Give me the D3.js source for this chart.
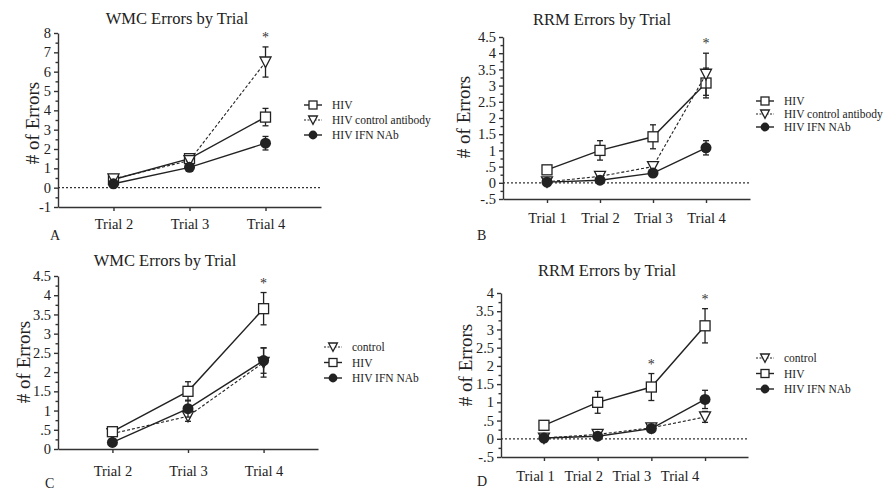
<!DOCTYPE html>
<html>
<head>
<meta charset="utf-8">
<script src="https://cdn.jsdelivr.net/npm/d3@7"></script>
<style>
  body { margin: 0; background: #fff; }
  svg { display: block; font-family: 'Liberation Serif', 'DejaVu Serif', serif; }
  .axis path, .axis line { stroke: #333; stroke-width: 1.4; }
  .axis text { font-size: 14.5px; fill: #222; font-family: 'Liberation Serif', serif; }
  .title { font-size: 16.5px; fill: #222; }
  .ylabel { font-size: 19px; fill: #222; }
  .legend text { font-size: 11.5px; fill: #222; }
  .tag { font-size: 14px; fill: #222; }
</style>
</head>
<body>
<svg id="chart" width="884" height="492"></svg>
<script>
// ---- data ----
const trials3 = ['Trial 2', 'Trial 3', 'Trial 4'];
const trials4 = ['Trial 1', 'Trial 2', 'Trial 3', 'Trial 4'];

// Panel A: WMC errors
const aHIV = [0.42, 1.5, 3.65];
const aHIVErr = [0.08, 0.15, 0.45];
const aCtrlAb = [0.45, 1.4, 6.5];
const aCtrlAbErr = [0.08, 0.15, 0.78];
const aIFN = [0.2, 1.05, 2.3];
const aIFNErr = [0.06, 0.12, 0.35];
const aStars = ['Trial 4'];

// Panel B: RRM errors
const bHIV = [0.4, 1.0, 1.42, 3.08];
const bHIVErr = [0.1, 0.3, 0.37, 0.46];
const bCtrlAb = [0.03, 0.2, 0.5, 3.35];
const bCtrlAbErr = [0.03, 0.05, 0.1, 0.65];
const bIFN = [0.02, 0.08, 0.3, 1.08];
const bIFNErr = [0.02, 0.04, 0.06, 0.22];
const bStars = ['Trial 4'];

// Panel C: WMC errors
const cCtrl = [0.4, 0.85, 2.25];
const cCtrlErr = [0.05, 0.13, 0.38];
const cHIV = [0.45, 1.5, 3.65];
const cHIVErr = [0.06, 0.25, 0.42];
const cIFN = [0.17, 1.05, 2.3];
const cIFNErr = [0.05, 0.22, 0.33];
const cStars = ['Trial 4'];

// Panel D: RRM errors
const dCtrl = [0.02, 0.12, 0.3, 0.6];
const dCtrlErr = [0.02, 0.06, 0.06, 0.15];
const dHIV = [0.37, 1.0, 1.42, 3.1];
const dHIVErr = [0.12, 0.3, 0.37, 0.47];
const dIFN = [0.02, 0.07, 0.28, 1.08];
const dIFNErr = [0.02, 0.04, 0.05, 0.25];
const dStars = ['Trial 3', 'Trial 4'];

const svg = d3.select('#chart');
const ink = '#222';

function fmt(d) {
  if (d === 0) return '0';
  return String(d).replace(/^(-?)0\./, '$1.');
}

function drawMarker(g, type, x, y, r = 5) {
  if (type === 'square') {
    g.append('rect')
      .attr('x', x - r).attr('y', y - r)
      .attr('width', 2 * r).attr('height', 2 * r)
      .attr('fill', '#fff').attr('stroke', ink).attr('stroke-width', 1.3);
  } else if (type === 'triangle') {
    g.append('path')
      .attr('d', `M${x - r * 1.1},${y - r} L${x + r * 1.1},${y - r} L${x},${y + r * 1.1} Z`)
      .attr('fill', '#fff').attr('stroke', ink).attr('stroke-width', 1.3);
  } else {
    g.append('circle')
      .attr('cx', x).attr('cy', y).attr('r', r * 1.1)
      .attr('fill', ink);
  }
}

function drawPanel(p) {
  const g = svg.append('g');
  const x = d3.scalePoint().domain(p.trials).range(p.xRange).padding(p.pad);
  const y = d3.scaleLinear().domain(p.yDomain).range(p.yRange);

  // zero reference line
  if (p.yDomain[0] < 0) {
    g.append('line')
      .attr('x1', p.xRange[0]).attr('x2', p.xRange[1])
      .attr('y1', y(0)).attr('y2', y(0))
      .attr('stroke', '#333').attr('stroke-width', 1.2)
      .attr('stroke-dasharray', '2,2');
  }

  // axes
  const majors = d3.range(p.yDomain[0], p.yDomain[1] + 1e-9, p.step).map(v => +v.toFixed(2));
  const minors = majors.slice(0, -1).map(v => +(v + p.step / 2).toFixed(3));

  g.append('g').attr('class', 'axis')
    .attr('transform', `translate(${p.xRange[0]},0)`)
    .call(d3.axisLeft(y).tickValues(minors).tickSize(2.5).tickFormat(''))
    .call(a => a.select('.domain').remove());

  g.append('g').attr('class', 'axis')
    .attr('transform', `translate(${p.xRange[0]},0)`)
    .call(d3.axisLeft(y).tickValues(majors).tickSize(4).tickSizeOuter(0).tickFormat(fmt).tickPadding(3));

  const xa = g.append('g').attr('class', 'axis')
    .attr('transform', `translate(0,${p.yRange[0]})`)
    .call(d3.axisBottom(x).tickSize(4).tickSizeOuter(0).tickPadding(p.labelPad));
  if (p.labelShift) {
    xa.selectAll('.tick text').attr('dx', (d, i) => -p.labelShift * i - 9);
  }

  // series
  const line = d3.line().x(d => x(d.t)).y(d => y(d.v));
  p.series.forEach(s => {
    const pts = p.trials.map((t, i) => ({ t, v: s.values[i], e: s.errs[i] }));
    const sg = g.append('g');
    sg.append('path')
      .datum(pts)
      .attr('d', line)
      .attr('fill', 'none')
      .attr('stroke', ink)
      .attr('stroke-width', s.dashed ? 1.1 : 1.4)
      .attr('stroke-dasharray', s.dashed ? '3,2' : null);
    pts.forEach(d => {
      const cx = x(d.t);
      sg.append('line')
        .attr('x1', cx).attr('x2', cx)
        .attr('y1', y(d.v - d.e)).attr('y2', y(d.v + d.e))
        .attr('stroke', ink).attr('stroke-width', 1.3);
      [d.v - d.e, d.v + d.e].forEach(v => {
        sg.append('line')
          .attr('x1', cx - 3).attr('x2', cx + 3)
          .attr('y1', y(v)).attr('y2', y(v))
          .attr('stroke', ink).attr('stroke-width', 1.3);
      });
    });
    s.g = sg;
    s.pts = pts;
  });
  p.series.forEach(s => {
    s.pts.forEach(d => drawMarker(s.g, s.marker, x(d.t), y(d.v)));
  });

  // significance stars
  p.stars.forEach(t => {
    const i = p.trials.indexOf(t);
    const top = d3.max(p.series, s => s.values[i] + s.errs[i]);
    g.append('text')
      .attr('x', x(t)).attr('y', y(top) - 5)
      .attr('text-anchor', 'middle')
      .attr('font-size', 14).attr('fill', '#333')
      .text('*');
  });

  // title, y label, panel tag
  g.append('text').attr('class', 'title')
    .attr('x', p.titlePos[0]).attr('y', p.titlePos[1])
    .attr('text-anchor', 'middle').text(p.title);

  g.append('text').attr('class', 'ylabel')
    .attr('transform', `translate(${p.ylabelPos[0]},${p.ylabelPos[1]}) rotate(-90)`)
    .attr('text-anchor', 'middle').attr('dominant-baseline', 'central')
    .text('# of Errors');

  g.append('text').attr('class', 'tag')
    .attr('x', p.tagPos[0]).attr('y', p.tagPos[1]).text(p.tag);

  // legend
  const lg = g.append('g').attr('class', 'legend');
  p.legendOrder.forEach((s, i) => {
    const ly = p.legendPos[1] + i * p.legendGap;
    const lx = p.legendPos[0];
    lg.append('line')
      .attr('x1', lx - 9).attr('x2', lx + 9)
      .attr('y1', ly).attr('y2', ly)
      .attr('stroke', ink).attr('stroke-width', s.dashed ? 1.1 : 1.4)
      .attr('stroke-dasharray', s.dashed ? '2,1.5' : null);
    drawMarker(lg, s.marker, lx, ly, 4);
    lg.append('text')
      .attr('x', lx + 19).attr('y', ly)
      .attr('dominant-baseline', 'central')
      .text(s.name);
  });
}

const sA = [
  { name: 'HIV', values: aHIV, errs: aHIVErr, marker: 'square', dashed: false },
  { name: 'HIV  control antibody', values: aCtrlAb, errs: aCtrlAbErr, marker: 'triangle', dashed: true },
  { name: 'HIV IFN NAb', values: aIFN, errs: aIFNErr, marker: 'circle', dashed: false },
];
const sB = [
  { name: 'HIV', values: bHIV, errs: bHIVErr, marker: 'square', dashed: false },
  { name: 'HIV control antibody', values: bCtrlAb, errs: bCtrlAbErr, marker: 'triangle', dashed: true },
  { name: 'HIV IFN NAb', values: bIFN, errs: bIFNErr, marker: 'circle', dashed: false },
];
const sC = [
  { name: 'control', values: cCtrl, errs: cCtrlErr, marker: 'triangle', dashed: true },
  { name: 'HIV', values: cHIV, errs: cHIVErr, marker: 'square', dashed: false },
  { name: 'HIV  IFN NAb', values: cIFN, errs: cIFNErr, marker: 'circle', dashed: false },
];
const sD = [
  { name: 'control', values: dCtrl, errs: dCtrlErr, marker: 'triangle', dashed: true },
  { name: 'HIV', values: dHIV, errs: dHIVErr, marker: 'square', dashed: false },
  { name: 'HIV IFN NAb', values: dIFN, errs: dIFNErr, marker: 'circle', dashed: false },
];

drawPanel({
  trials: trials3, series: sA, legendOrder: sA, stars: aStars,
  xRange: [58, 321], pad: 0.73, yDomain: [-1, 8], yRange: [207, 33], step: 1, labelPad: 8,
  title: 'WMC Errors by Trial', titlePos: [177, 24], ylabelPos: [32, 123], tag: 'A', tagPos: [50, 240],
  legendPos: [313, 105], legendGap: 15,
});
drawPanel({
  trials: trials4, series: sB, legendOrder: sB, stars: bStars,
  xRange: [503, 750], pad: 0.83, yDomain: [-0.5, 4.5], yRange: [199, 37], step: 0.5, labelPad: 10,
  title: 'RRM Errors by Trial', titlePos: [602, 25], ylabelPos: [463, 117], tag: 'B', tagPos: [477, 240],
  legendPos: [765, 101], legendGap: 13,
});
drawPanel({
  trials: trials3, series: sC, legendOrder: sC, stars: cStars,
  xRange: [58, 318], pad: 0.72, yDomain: [0, 4.5], yRange: [449, 276], step: 0.5, labelPad: 13,
  title: 'WMC Errors by Trial', titlePos: [165, 266], ylabelPos: [23, 362], tag: 'C', tagPos: [45, 488],
  legendPos: [333, 347], legendGap: 15.5,
});
drawPanel({
  trials: trials4, series: sD, legendOrder: sD, stars: dStars,
  xRange: [501, 748], pad: 0.8, yDomain: [-0.5, 4], yRange: [457, 293], step: 0.5, labelPad: 10, labelShift: 5.5,
  title: 'RRM Errors by Trial', titlePos: [607, 276], ylabelPos: [465, 365], tag: 'D', tagPos: [477, 486],
  legendPos: [765, 358], legendGap: 15.5,
});
</script>
</body>
</html>
